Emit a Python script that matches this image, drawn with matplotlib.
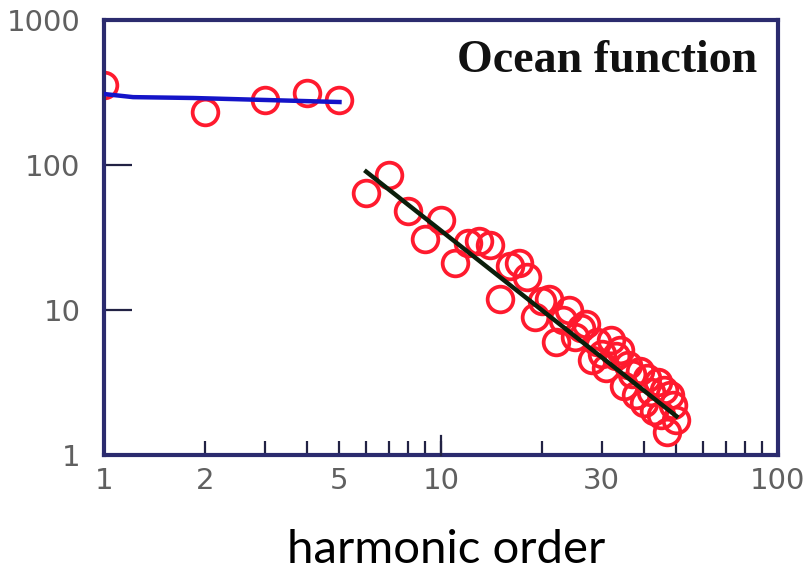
import matplotlib
matplotlib.use('Agg')
import matplotlib.pyplot as plt
from matplotlib.ticker import FixedLocator, NullFormatter, NullLocator

# low harmonics (n = 1..5)
low_n = [1, 2, 3, 4, 5]
low_val = [356, 232, 281, 314, 281]

# higher harmonics (n = 6..50)
high_n = list(range(6, 51))
high_val = [64, 86, 48, 31, 42, 21, 29, 30, 28, 12,
            20, 21, 17, 9, 11.5, 12, 6, 8.5, 10, 6.5,
            7.5, 8, 4.5, 6, 5, 4, 6.2, 4.8, 5.3, 3,
            4.2, 3.6, 2.6, 3.8, 2.3, 3.4, 2.7, 2.0, 3.2, 1.9,
            2.8, 1.45, 2.6, 2.2, 1.75]

# fitted lines
blue_x = [1, 1.22, 1.84, 5]
blue_y = [309, 294, 290, 272]
black_x = [6, 50]
black_y = [90, 1.85]

navy = '#2b2b6e'
tickc = '#222244'

fig = plt.figure(figsize=(8.12, 5.73), dpi=100)
ax = fig.add_axes([0.128, 0.206, 0.83, 0.759])

ax.plot(low_n, low_val, 'o', mfc='none', mec='#ff1a2e', ms=18.5, mew=2.7, zorder=2)
ax.plot(high_n, high_val, 'o', mfc='none', mec='#ff1a2e', ms=18.5, mew=2.7, zorder=2)
ax.plot(blue_x, blue_y, color='#1414c8', lw=3.2, zorder=3)
ax.plot(black_x, black_y, color='#0b1f0b', lw=3.2, zorder=3)

ax.set_xscale('log')
ax.set_yscale('log')
ax.set_xlim(1, 100)
ax.set_ylim(1, 1000)

for s in ax.spines.values():
    s.set_color(navy)
    s.set_linewidth(3)

tick_font = dict(family='DejaVu Sans', size=21, color='#606060')

ax.xaxis.set_major_locator(FixedLocator([1, 2, 5, 10, 30, 100]))
ax.set_xticklabels(['1', '2', '5', '10', '30', '100'], **tick_font)
ax.xaxis.set_minor_locator(FixedLocator([3, 4, 6, 7, 8, 9, 20, 40, 50, 60, 70, 80, 90]))
ax.xaxis.set_minor_formatter(NullFormatter())
ax.tick_params(axis='x', which='both', direction='in', color=tickc, width=1.6,
               length=10, top=False, pad=9)

ax.yaxis.set_major_locator(FixedLocator([1, 10, 100, 1000]))
ax.set_yticklabels(['1', '10', '100', '1000'], **tick_font)
ax.yaxis.set_minor_locator(NullLocator())
ax.tick_params(axis='y', which='major', direction='in', length=20, width=1.6,
               color=tickc, right=False, pad=17)

# longer tick at 10 on x
ax.plot([10, 10], [1, 1.35], color=tickc, lw=1.6, clip_on=False, zorder=4)

ax.text(0.969, 0.905, 'Ocean function', transform=ax.transAxes, ha='right', va='center',
        family='Liberation Serif', fontweight='bold', fontsize=33, color='#111111')

fig.text(0.55, 0.04, 'harmonic order', ha='center', va='center',
         family='Lato', fontsize=34, color='black')

fig.savefig('out.png', dpi=100)
